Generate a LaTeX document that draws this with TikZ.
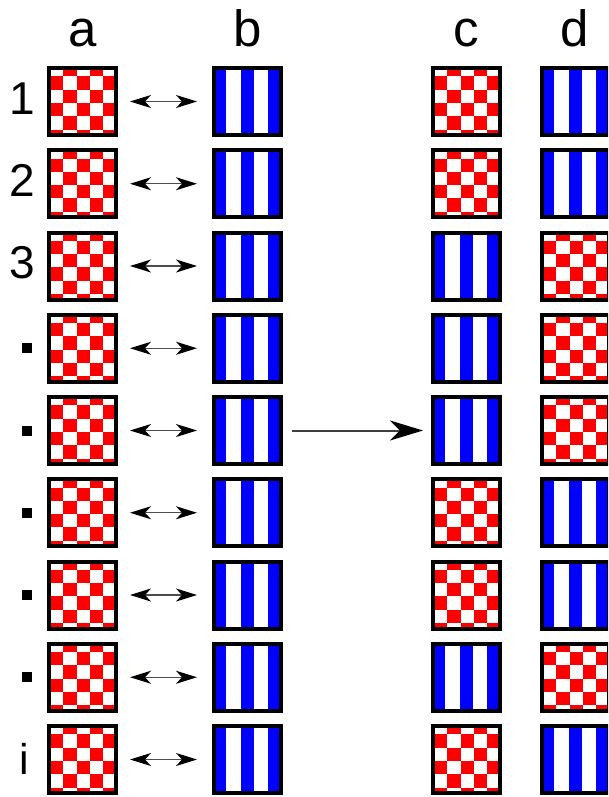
\documentclass[tikz,border=0pt]{standalone}
\usepackage{fontspec}
\setmainfont{Liberation Sans}
\usetikzlibrary{arrows.meta}
\definecolor{chkred}{RGB}{255,0,0}
\definecolor{strblue}{RGB}{0,0,255}
\tikzset{
  tile/.style={rectangle, draw=black, line width=4pt, minimum size=67pt, inner sep=0pt, outer sep=2pt},
  collabel/.style={font=\fontsize{51}{51}\selectfont, inner sep=0pt, anchor=base},
  rowlabel/.style={font=\fontsize{46}{46}\selectfont, inner sep=0pt, anchor=base},
  ilabel/.style={font=\fontsize{43}{43}\selectfont, inner sep=0pt, anchor=base},
  dotlabel/.style={rectangle, fill=black, minimum size=10pt, inner sep=0pt},
  swaparrow/.style={black!70, line width=1.3pt, shorten <=12pt, shorten >=15pt,
    {Stealth[length=21pt,width=13pt,inset=6pt,color=black]}-{Stealth[length=21pt,width=13pt,inset=6pt,color=black]}},
  maparrow/.style={black!75, line width=2pt, shorten <=9pt, shorten >=8pt,
    -{Stealth[length=33pt,width=20pt,inset=10pt,color=black]}},
}
\newcommand{\chktile}[3]{%
  \begin{scope}
    \clip (#2+4,#3+4) rectangle ++(63,63);
    \foreach \ci in {0,...,4}{
      \foreach \cj in {0,...,5}{
        \pgfmathtruncatemacro{\chks}{\ci+\cj}
        \ifodd\chks
          \fill[chkred] ({#2+3+13.3*\ci},{#3-3+13.3*\cj}) rectangle ++(13.3,13.3);
        \fi
      }
    }
  \end{scope}
  \node[tile] (#1) at (#2+35.5,#3+35.5) {};
}
\newcommand{\strtile}[3]{%
  \fill[strblue] (#2+4,#3+4) rectangle ++(10,63);
  \fill[strblue] (#2+28.5,#3+4) rectangle ++(13,63);
  \fill[strblue] (#2+56,#3+4) rectangle ++(11,63);
  \node[tile] (#1) at (#2+35.5,#3+35.5) {};
}
\begin{document}
\begin{tikzpicture}[x=1pt,y={(0pt,-1pt)}]
\clip (0,0) rectangle (608,797);
\fill[white] (0,0) rectangle (608,797);
\node[collabel] (la) at (82.5,47) {a};
\node[collabel] (lb) at (247.5,47) {b};
\node[collabel] (lc) at (466,47) {c};
\node[collabel] (ld) at (575,47) {d};
\foreach \k in {1,...,9}{
  \pgfmathsetmacro{\ty}{66+(\k-1)*82.25}
  \chktile{a\k}{47}{\ty}
  \strtile{b\k}{212}{\ty}
  \draw[swaparrow] (a\k) -- (b\k);
}
\foreach \k/\pc in {1/0,2/0,3/1,4/1,5/1,6/0,7/0,8/1,9/0}{
  \pgfmathsetmacro{\ty}{66+(\k-1)*82.25}
  \ifnum\pc=0
    \chktile{c\k}{431}{\ty}
    \strtile{d\k}{540}{\ty}
  \else
    \strtile{c\k}{431}{\ty}
    \chktile{d\k}{540}{\ty}
  \fi
}
\draw[maparrow] (b5) -- (c5);
\node[rowlabel] (r1) at (22.5,114) {1};
\node[rowlabel] (r2) at (22.5,196.25) {2};
\node[rowlabel] (r3) at (22.5,278.5) {3};
\node[dotlabel] (r4) at (26.7,348.25) {};
\node[dotlabel] (r5) at (26.7,430.5) {};
\node[dotlabel] (r6) at (26.7,512.75) {};
\node[dotlabel] (r7) at (26.7,595) {};
\node[dotlabel] (r8) at (26.7,677.25) {};
\node[ilabel] (r9) at (24.2,774) {i};
\end{tikzpicture}
\end{document}
